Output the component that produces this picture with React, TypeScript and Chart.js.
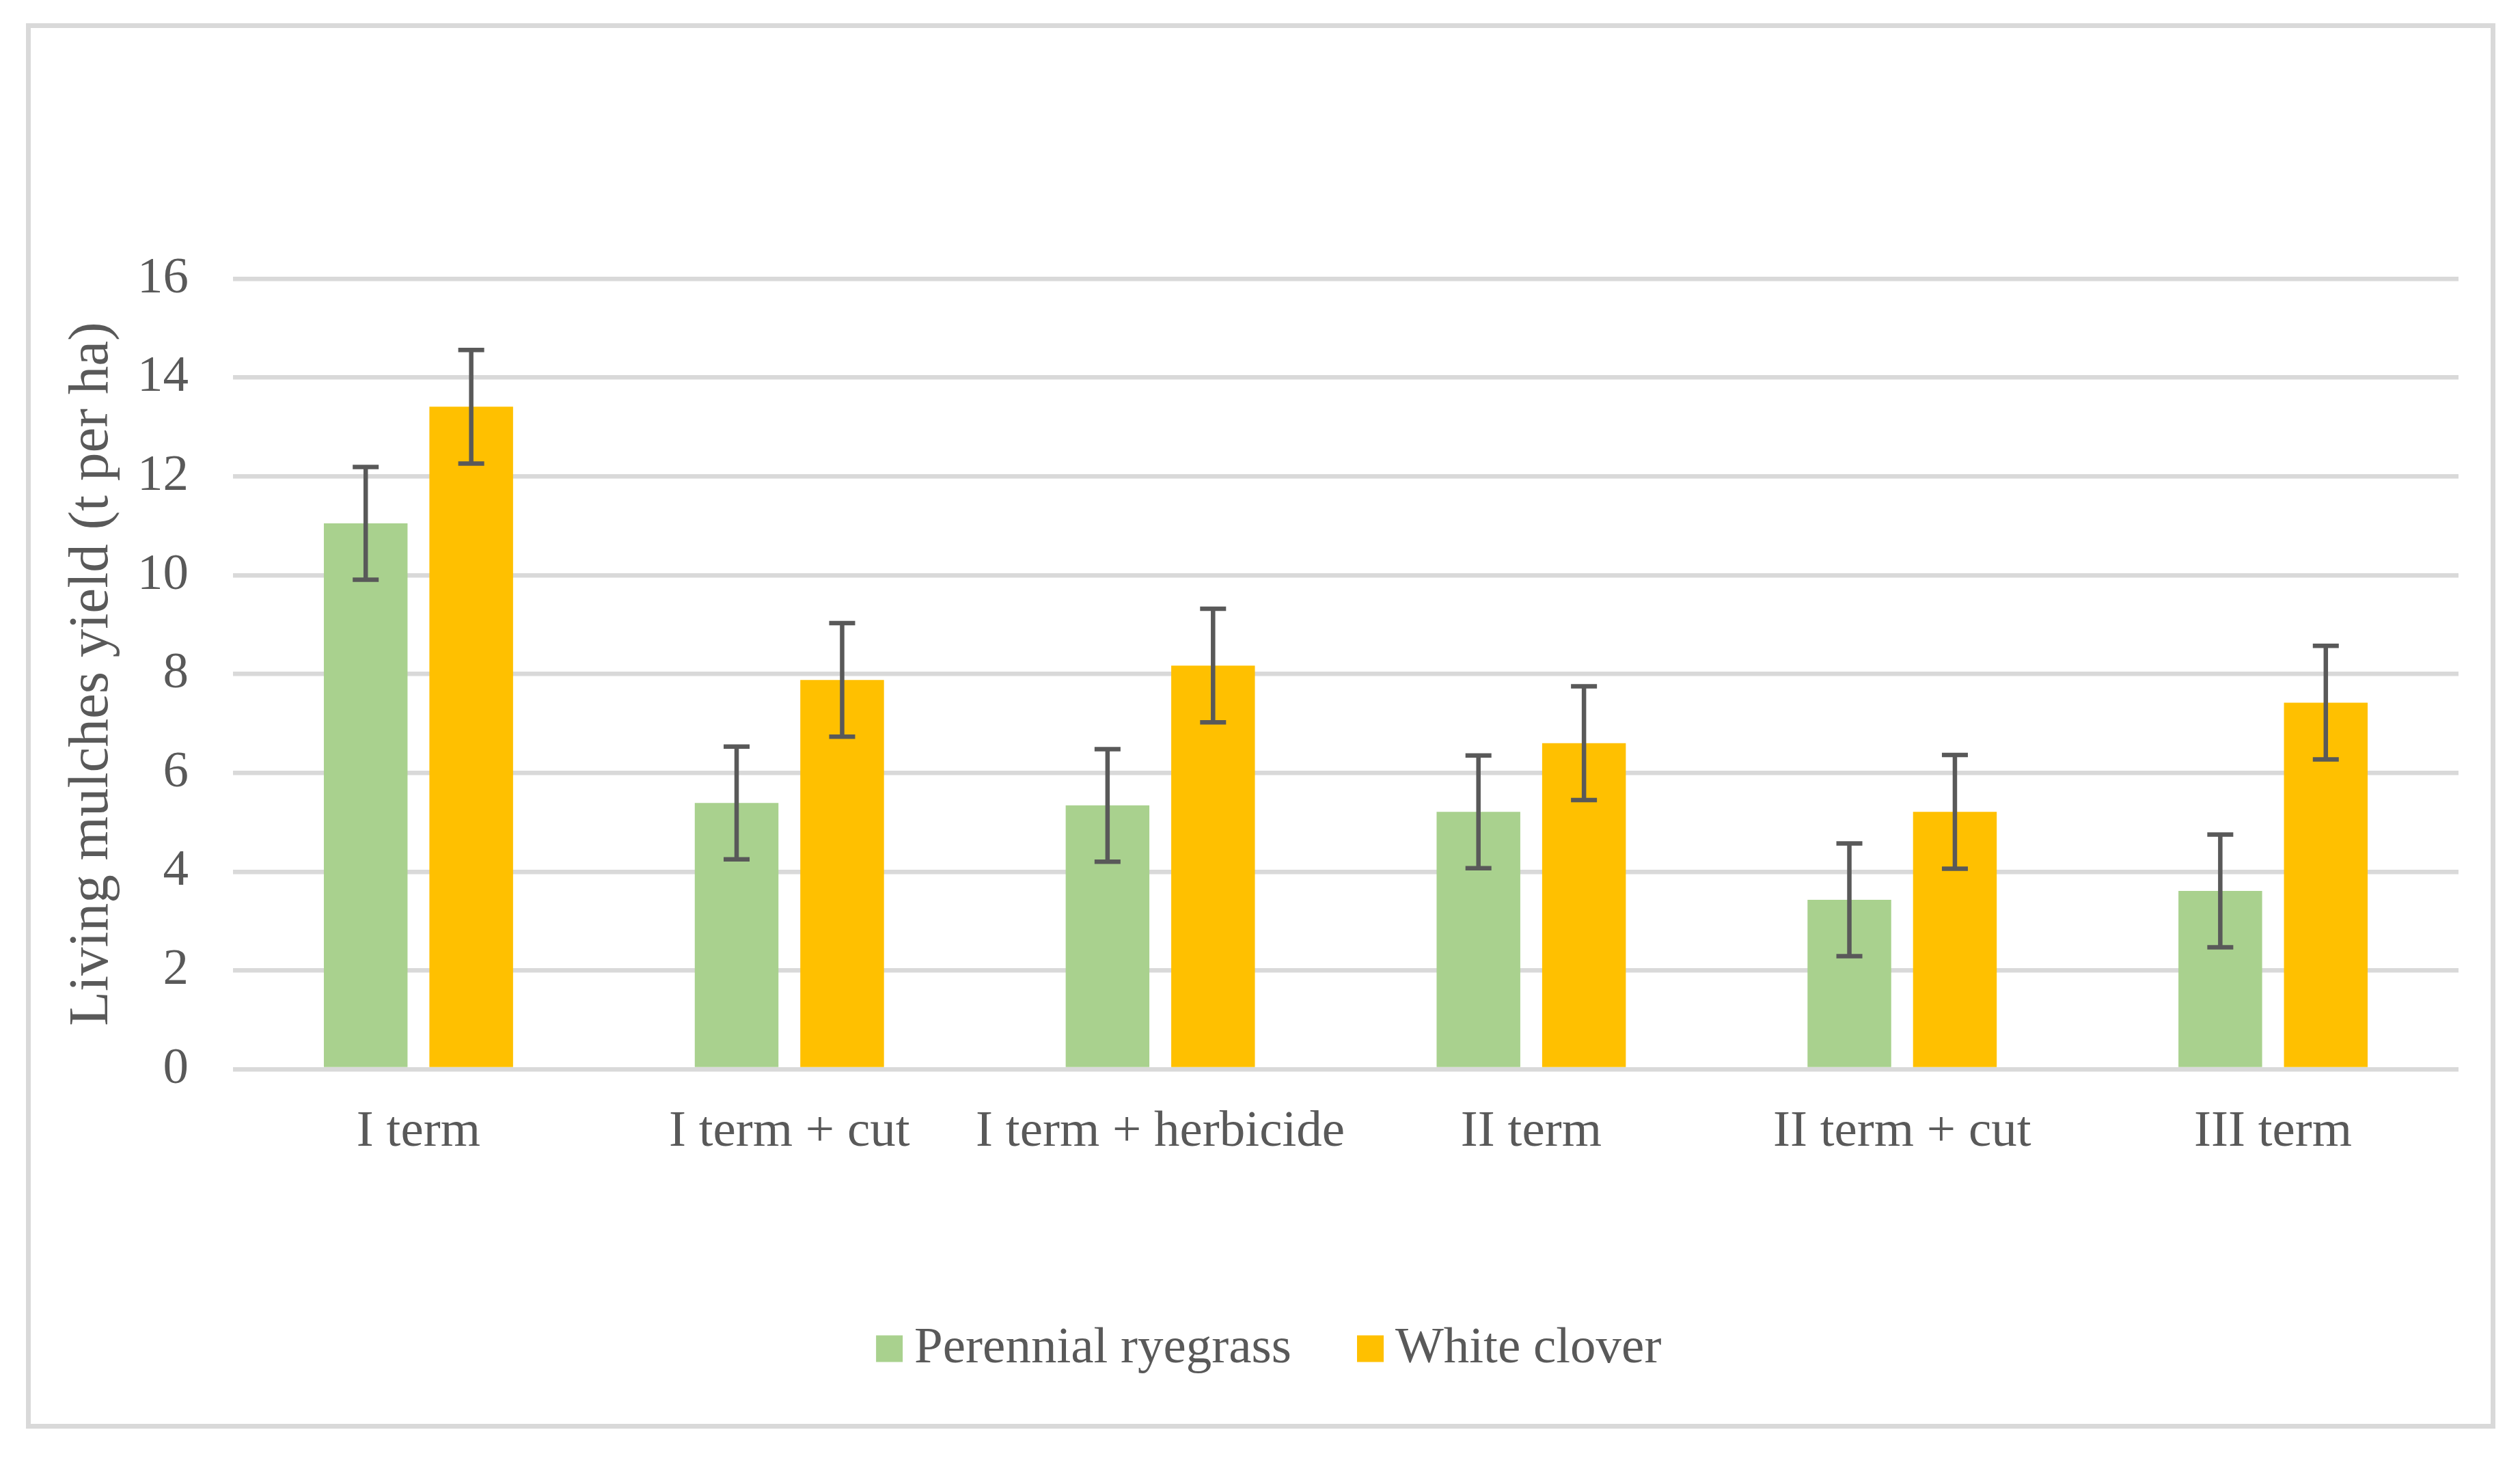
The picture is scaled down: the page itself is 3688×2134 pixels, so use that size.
import React, { useEffect, useRef } from "react";
import { Chart, registerables } from "chart.js";

Chart.register(...registerables);

const categories = ["I term", "I term + cut", "I term + herbicide", "II term", "II term + cut", "III term"];
const seriesNames = ["Perennial ryegrass", "White clover"];
const seriesColors = ["#A9D18E", "#FFC000"];
const ryegrass = [11.05, 5.39, 5.34, 5.21, 3.43, 3.61];
const clover = [13.41, 7.88, 8.17, 6.6, 5.21, 7.42];
const ryegrassErr = [1.14, 1.14, 1.14, 1.14, 1.14, 1.14];
const cloverErr = [1.15, 1.15, 1.15, 1.15, 1.15, 1.15];
const yMin = 0;
const yMax = 16;
const yStep = 2;
const yTitle = "Living mulches yield (t per ha)";

const FONT = "'Liberation Serif', 'Times New Roman', serif";
const TEXT = "#595959";
const GRID = "#d9d9d9";
const LEGEND_FONT = 75;
const LEGEND_BOX = 39;
const LEGEND_TEXT_GAP = 17;

const errorBars = {
  id: "errorBars",
  afterDatasetsDraw(chart: any) {
    const { ctx } = chart;
    const y = chart.scales.y;
    chart.data.datasets.forEach((ds: any, i: number) => {
      const meta = chart.getDatasetMeta(i);
      const errs: number[] = ds.errors || [];
      meta.data.forEach((bar: any, j: number) => {
        const v = ds.data[j];
        const e = errs[j];
        if (v == null || e == null) return;
        const top = y.getPixelForValue(v + e);
        const bot = y.getPixelForValue(v - e);
        const cap = 19;
        ctx.save();
        ctx.strokeStyle = TEXT;
        ctx.lineWidth = 6.5;
        ctx.lineCap = "butt";
        ctx.beginPath();
        ctx.moveTo(bar.x, top);
        ctx.lineTo(bar.x, bot);
        ctx.moveTo(bar.x - cap, top);
        ctx.lineTo(bar.x + cap, top);
        ctx.moveTo(bar.x - cap, bot);
        ctx.lineTo(bar.x + cap, bot);
        ctx.stroke();
        ctx.restore();
      });
    });
  },
};

// Draw the legend colour squares closer to their text (as in the original)
const legendBoxes = {
  id: "legendBoxes",
  afterDraw(chart: any) {
    const legend = chart.legend;
    if (!legend || !legend.legendHitBoxes) return;
    const ctx = chart.ctx;
    legend.legendHitBoxes.forEach((hb: any, i: number) => {
      const ds = chart.data.datasets[i];
      if (!ds) return;
      const textX = hb.left + LEGEND_BOX + LEGEND_FONT / 2;
      const cy = hb.top + hb.height / 2;
      ctx.save();
      ctx.fillStyle = ds.backgroundColor;
      ctx.fillRect(textX - LEGEND_TEXT_GAP - LEGEND_BOX, cy - LEGEND_BOX / 2, LEGEND_BOX, LEGEND_BOX);
      ctx.restore();
    });
  },
};

export default function App() {
  const ref = useRef<HTMLCanvasElement | null>(null);

  useEffect(() => {
    if (!ref.current) return;
    const chart = new Chart(ref.current, {
      type: "bar",
      data: {
        labels: categories,
        datasets: [
          {
            label: seriesNames[0],
            data: ryegrass,
            errors: ryegrassErr,
            backgroundColor: seriesColors[0],
            borderWidth: 0,
            categoryPercentage: 0.569,
            barPercentage: 0.793,
          } as any,
          {
            label: seriesNames[1],
            data: clover,
            errors: cloverErr,
            backgroundColor: seriesColors[1],
            borderWidth: 0,
            categoryPercentage: 0.569,
            barPercentage: 0.793,
          } as any,
        ],
      },
      options: {
        animation: false,
        responsive: true,
        maintainAspectRatio: false,
        devicePixelRatio: 1,
        layout: { padding: { left: 95, right: 90, top: 408, bottom: 112.5 } },
        plugins: {
          tooltip: { enabled: false },
          legend: {
            position: "bottom",
            labels: {
              color: TEXT,
              font: { family: FONT, size: LEGEND_FONT },
              boxWidth: LEGEND_BOX,
              boxHeight: LEGEND_BOX,
              padding: 75.5,
              generateLabels(chart: any) {
                const items = (Chart as any).defaults.plugins.legend.labels.generateLabels(chart);
                return items.map((it: any) => ({
                  ...it,
                  fillStyle: "rgba(0,0,0,0)",
                  strokeStyle: "rgba(0,0,0,0)",
                  lineWidth: 0,
                }));
              },
            },
          },
        },
        scales: {
          x: {
            grid: { display: false },
            border: { display: false },
            ticks: {
              color: TEXT,
              font: { family: FONT, size: 75 },
              padding: 39,
              maxRotation: 0,
              autoSkip: false,
            },
            afterFit(s: any) {
              s.height = 296;
            },
          },
          y: {
            min: yMin,
            max: yMax,
            grid: { color: GRID, lineWidth: 6.5, drawTicks: false },
            border: { display: false },
            ticks: {
              stepSize: yStep,
              color: TEXT,
              font: { family: FONT, size: 75 },
              padding: 65,
            },
            title: {
              display: true,
              text: yTitle,
              color: TEXT,
              font: { family: FONT, size: 83 },
              padding: { top: -10, bottom: 0 },
            },
            afterFit(s: any) {
              s.width = 246;
            },
          },
        },
      } as any,
      plugins: [errorBars, legendBoxes],
    });
    return () => chart.destroy();
  }, []);

  return (
    <div style={{ position: "absolute", left: 0, top: 0, width: 3688, height: 2134, background: "#fff" }}>
      <div
        style={{
          position: "absolute",
          left: 38,
          top: 34,
          width: 3614,
          height: 2057,
          border: "7px solid #d9d9d9",
          boxSizing: "border-box",
        }}
      />
      <div style={{ position: "absolute", left: 0, top: 0, width: 3688, height: 2134 }}>
        <canvas ref={ref} />
      </div>
    </div>
  );
}
